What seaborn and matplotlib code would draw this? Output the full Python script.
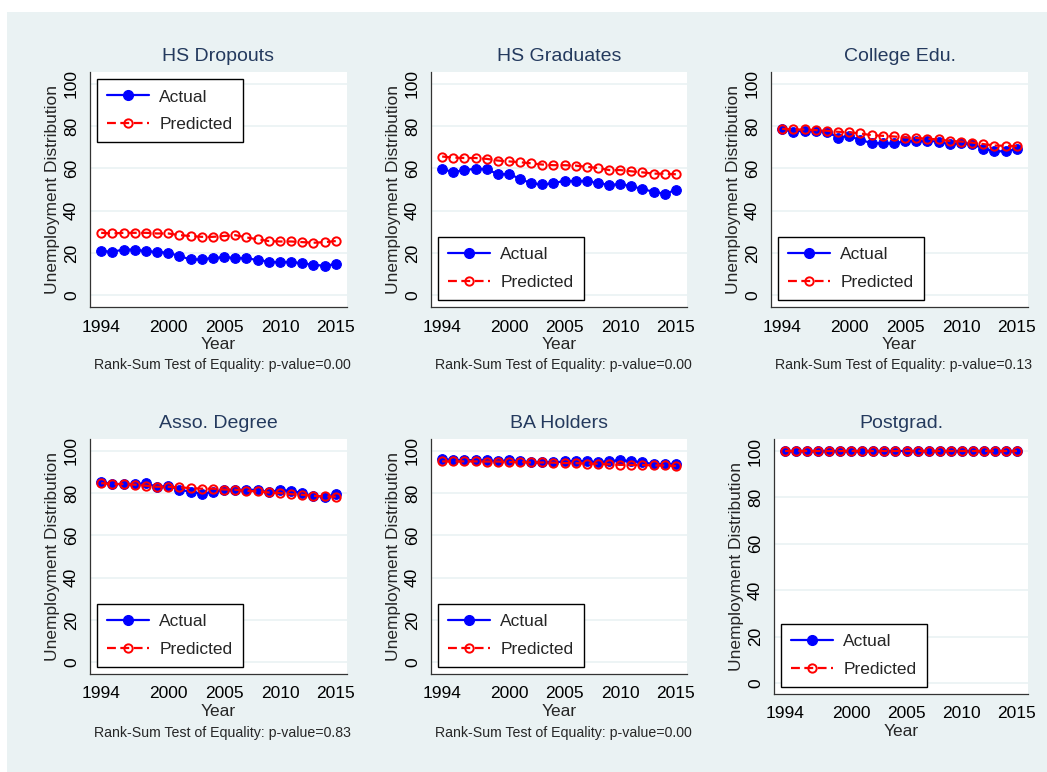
import numpy as np
import pandas as pd
import matplotlib
matplotlib.use("Agg")
import matplotlib.pyplot as plt
import seaborn as sns
from matplotlib.lines import Line2D
from matplotlib.patches import Rectangle

years = list(range(1994, 2016))

titles = ["HS Dropouts", "HS Graduates", "College Edu.",
          "Asso. Degree", "BA Holders", "Postgrad."]

pvalues = ["0.00", "0.00", "0.13", "0.83", "0.00", None]

dropouts_actual = [21.0, 20.5, 21.6, 21.6, 20.8, 20.5, 20.1, 18.5, 16.9, 16.9, 17.7,
                   17.9, 17.7, 17.4, 16.7, 15.8, 15.6, 15.8, 15.0, 14.4, 13.9, 14.7]
dropouts_pred = [29.5, 29.2, 29.5, 29.5, 29.5, 29.2, 29.2, 28.4, 28.0, 27.6, 27.6,
                 28.0, 28.4, 27.3, 26.5, 25.6, 25.4, 25.4, 25.1, 24.8, 25.1, 25.6]

hsgrad_actual = [59.6, 58.3, 59.1, 59.9, 59.6, 57.3, 57.3, 55.1, 52.9, 52.4, 52.9,
                 54.2, 53.9, 54.2, 52.9, 52.3, 52.4, 51.7, 50.1, 49.0, 47.9, 49.8]
hsgrad_pred = [65.6, 65.1, 64.9, 64.9, 64.5, 63.7, 63.3, 62.9, 62.4, 61.8, 61.5,
               61.5, 61.3, 60.7, 60.2, 59.2, 59.2, 58.6, 58.1, 57.5, 57.5, 57.2]

college_actual = [78.4, 77.4, 77.8, 77.8, 77.3, 74.6, 75.4, 73.3, 72.1, 71.8, 71.8,
                  72.9, 73.0, 73.0, 72.7, 71.3, 72.1, 71.5, 69.4, 68.1, 68.1, 69.1]
college_pred = [78.7, 78.4, 78.4, 78.1, 77.8, 77.3, 77.1, 76.5, 75.7, 75.4, 75.1,
                74.6, 74.4, 74.0, 73.7, 73.0, 72.7, 72.2, 71.5, 70.8, 70.7, 70.5]

asso_actual = [85.4, 84.1, 84.4, 84.3, 84.6, 83.0, 83.3, 81.7, 80.6, 79.8, 80.5,
               81.7, 81.4, 81.7, 81.4, 80.5, 81.4, 81.1, 80.0, 78.6, 78.3, 79.4]
asso_pred = [84.7, 84.3, 84.3, 84.0, 83.5, 83.0, 83.0, 82.7, 82.4, 82.1, 82.1,
             81.7, 81.6, 81.1, 80.8, 80.3, 80.0, 79.5, 79.2, 78.7, 78.4, 78.3]

ba_actual = [96.2, 95.6, 95.6, 95.6, 95.5, 95.1, 95.5, 95.1, 94.6, 94.6, 94.5,
             95.0, 95.3, 95.0, 94.6, 95.1, 95.6, 95.1, 94.6, 93.7, 93.8, 93.8]
ba_pred = [95.0, 95.0, 95.0, 95.0, 94.9, 94.9, 94.7, 94.7, 94.5, 94.5, 94.4,
           94.2, 94.2, 93.9, 93.9, 93.6, 93.4, 93.3, 93.3, 93.1, 93.1, 92.8]

postgrad_actual = [100.0] * 22
postgrad_pred = [100.0] * 22

actual_series = [dropouts_actual, hsgrad_actual, college_actual,
                 asso_actual, ba_actual, postgrad_actual]
pred_series = [dropouts_pred, hsgrad_pred, college_pred,
               asso_pred, ba_pred, postgrad_pred]

legend_locs = ["upper left", "lower left", "lower left",
               "lower left", "lower left", "lower left"]

x_ticks = [1994, 2000, 2005, 2010, 2015]
y_ticks = [0, 20, 40, 60, 80, 100]

# ---------------------------------------------------------------- style
sns.set_style("white")
plt.rcParams["font.family"] = ["Liberation Sans", "DejaVu Sans"]

BG = "#EAF2F3"
W, H = 1047, 772
fig = plt.figure(figsize=(W / 100, H / 100), dpi=100, facecolor=BG)
fig.patches.append(Rectangle((0, 0), 7 / W, 1, transform=fig.transFigure,
                             facecolor="white", edgecolor="none", zorder=0))
fig.patches.append(Rectangle((0, 1 - 12 / H), 1, 12 / H, transform=fig.transFigure,
                             facecolor="white", edgecolor="none", zorder=0))

# pixel boxes (left, right, top, bottom)
boxes = [(90, 347, 72, 307), (431, 687, 72, 307), (771, 1028, 72, 307),
         (90, 347, 439, 674), (431, 687, 439, 674), (774, 1028, 439, 694)]
note_y = [365, 365, 365, 733, 733, 733]

for i in range(6):
    l, r, t, b = boxes[i]
    ax = fig.add_axes([l / W, 1 - b / H, (r - l) / W, (b - t) / H])
    ax.set_facecolor("white")
    df = pd.DataFrame({"Year": years, "Actual": actual_series[i],
                       "Predicted": pred_series[i]})
    sns.lineplot(data=df, x="Year", y="Actual", ax=ax, color="#0000FF",
                 marker="o", markersize=7, markeredgecolor="#0000FF",
                 markerfacecolor="#0000FF", linewidth=1.6, zorder=3)
    sns.lineplot(data=df, x="Year", y="Predicted", ax=ax, color="#FF0000",
                 marker="o", markersize=6, markeredgecolor="#FF0000",
                 markerfacecolor="none", markeredgewidth=1.4,
                 linewidth=1.6, dashes=(4, 2), zorder=4)
    ax.set_xlim(1993, 2016)
    if i == 5:
        ax.set_ylim(-4.8, 105.2)
    else:
        ax.set_ylim(-5.6, 105.6)
    ax.set_xticks(x_ticks)
    ax.set_yticks(y_ticks)
    ax.set_yticklabels([str(v) for v in y_ticks], rotation=90, va="center")
    ax.tick_params(axis="both", direction="out", length=5, width=0.8,
                   color="#333333", labelsize=12.5, labelcolor="black")
    ax.tick_params(axis="y", pad=3)
    ax.tick_params(axis="x", pad=4)
    ax.yaxis.grid(True, color=BG, linewidth=1.2)
    ax.xaxis.grid(False)
    for s in ["top", "right"]:
        ax.spines[s].set_visible(False)
    for s in ["left", "bottom"]:
        ax.spines[s].set_color("#333333")
        ax.spines[s].set_linewidth(0.9)
    ax.set_xlabel("Year", fontsize=12.5, labelpad=2)
    ax.set_ylabel("Unemployment Distribution", fontsize=12.5, labelpad=3)
    ax.set_title(titles[i], fontsize=14, color="#243a5e", pad=8)

    handles = [
        Line2D([], [], color="#0000FF", marker="o", markersize=7,
               markerfacecolor="#0000FF", linewidth=1.6),
        Line2D([], [], color="#FF0000", marker="o", markersize=6,
               markerfacecolor="none", markeredgewidth=1.4, linewidth=1.6,
               dashes=(4, 2)),
    ]
    leg = ax.legend(handles, ["Actual", "Predicted"], loc=legend_locs[i],
                    fontsize=12.5, frameon=True, fancybox=False,
                    edgecolor="black", framealpha=1, handlelength=2.4,
                    handletextpad=0.6, borderpad=0.6, labelspacing=0.7,
                    borderaxespad=0.4)
    leg.get_frame().set_linewidth(1.0)

    if pvalues[i] is not None:
        cx = (l + r) / 2 + 4
        fig.text(cx / W, 1 - note_y[i] / H,
                 "Rank-Sum Test of Equality: p-value=" + pvalues[i],
                 ha="center", va="center", fontsize=10.2)

fig.savefig("out.png", dpi=100, facecolor=BG)
